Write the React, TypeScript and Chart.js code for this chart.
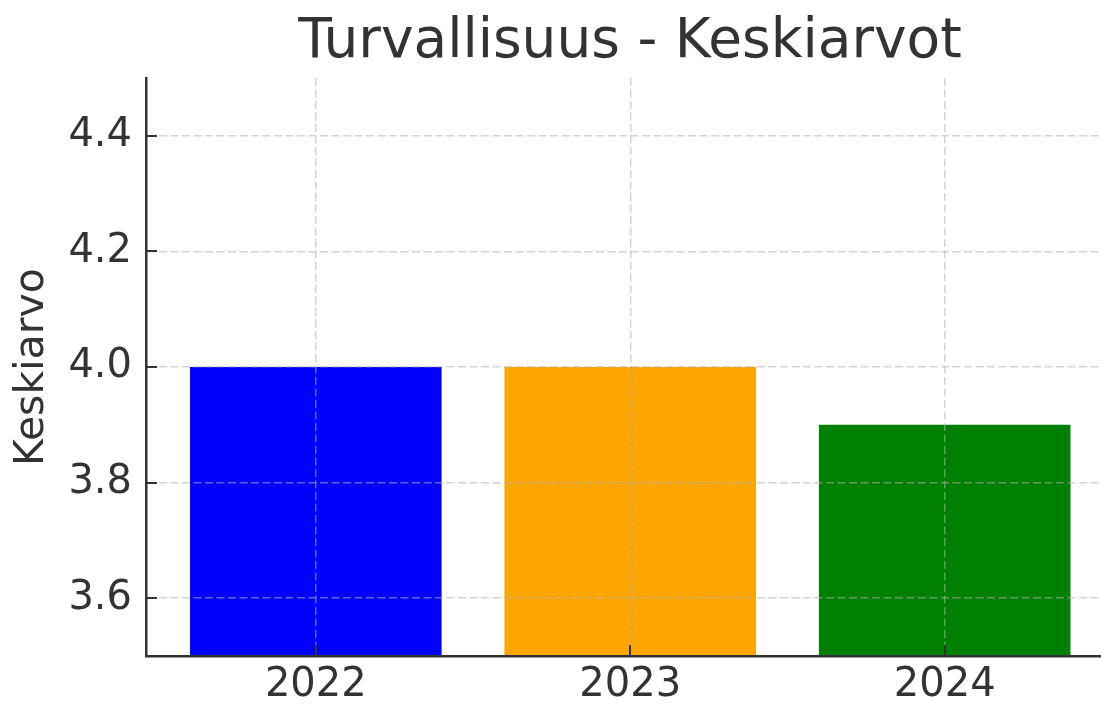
import React, { useEffect, useRef } from 'react';
import { Chart, registerables } from 'chart.js';

Chart.register(...registerables);

const categories = ['2022', '2023', '2024'];
const values = [4.0, 4.0, 3.9];
const barColors = ['#0000ff', '#ffa500', '#008000'];
const yTicks = [3.6, 3.8, 4.0, 4.2, 4.4];
const yMin = 3.5;
const yMax = 4.5;
const titleText = 'Turvallisuus - Keskiarvot';
const yLabel = 'Keskiarvo';

const FONT = "'DejaVu Sans', sans-serif";
const TEXT = '#333333';
const GRID = 'rgba(176,176,176,0.55)';
const DASH = [8, 3.5];

export default function App() {
  const ref = useRef<HTMLCanvasElement>(null);

  useEffect(() => {
    if (!ref.current) return;

    const titlePlugin = {
      id: 'mplTitle',
      afterDraw(chart: any) {
        const ctx = chart.ctx;
        ctx.save();
        ctx.font = `55px ${FONT}`;
        ctx.fillStyle = TEXT;
        ctx.textAlign = 'center';
        ctx.textBaseline = 'alphabetic';
        ctx.fillText(titleText, 630, 57);
        ctx.restore();
      },
    };

    const inwardTicks = {
      id: 'inwardTicks',
      afterDraw(chart: any) {
        const { ctx, chartArea, scales } = chart;
        const xs = scales.x;
        const ys = scales.y;
        ctx.save();
        ctx.strokeStyle = TEXT;
        ctx.lineWidth = 2;
        ctx.setLineDash([]);
        ctx.beginPath();
        xs.ticks.forEach((t: any) => {
          const px = Math.round(xs.getPixelForValue(t.value));
          ctx.moveTo(px, chartArea.bottom);
          ctx.lineTo(px, chartArea.bottom - 11);
        });
        ys.ticks.forEach((t: any) => {
          const py = Math.round(ys.getPixelForValue(t.value));
          ctx.moveTo(chartArea.left, py);
          ctx.lineTo(chartArea.left + 11, py);
        });
        ctx.stroke();
        ctx.restore();
      },
    };

    const chart = new Chart(ref.current, {
      type: 'bar',
      data: {
        datasets: [
          {
            data: categories.map((_, i) => ({ x: i, y: values[i] })),
            backgroundColor: barColors,
            borderWidth: 0,
            categoryPercentage: 1,
            barPercentage: 0.8,
          },
        ],
      },
      options: {
        responsive: false,
        animation: false,
        layout: { padding: { top: 78, left: 0, right: 0, bottom: 0 } },
        plugins: {
          legend: { display: false },
          title: { display: false },
          tooltip: { enabled: false },
        },
        scales: {
          x: {
            type: 'linear',
            min: -0.54,
            max: 2.497,
            offset: false,
            afterBuildTicks: (s: any) => {
              s.ticks = categories.map((_, i) => ({ value: i }));
            },
            afterFit: (s: any) => {
              s.height = 49;
            },
            ticks: {
              callback: (v: any) => categories[v] ?? '',
              font: { family: FONT, size: 40 },
              color: TEXT,
              padding: 6,
              maxRotation: 0,
              autoSkip: false,
            },
            grid: { color: GRID, lineWidth: 1.5, drawTicks: false, offset: false, z: 1 },
            border: { display: true, color: TEXT, width: 2.5, dash: DASH, z: 2 },
          },
          y: {
            type: 'linear',
            min: yMin,
            max: yMax,
            afterBuildTicks: (s: any) => {
              s.ticks = yTicks.map((v) => ({ value: v }));
            },
            afterFit: (s: any) => {
              s.width = 146;
            },
            ticks: {
              callback: (v: any) => Number(v).toFixed(1),
              font: { family: FONT, size: 40 },
              color: TEXT,
              padding: 14,
            },
            grid: { color: GRID, lineWidth: 1.5, drawTicks: false, z: 1 },
            border: { display: true, color: TEXT, width: 2.5, dash: DASH, z: 2 },
            title: {
              display: true,
              text: yLabel,
              font: { family: FONT, size: 41 },
              color: TEXT,
              padding: { top: 8, bottom: 0 },
            },
          },
        },
      },
      plugins: [titlePlugin, inwardTicks],
    } as any);

    return () => chart.destroy();
  }, []);

  return (
    <div style={{ position: 'fixed', left: 0, top: 0, width: 1101, height: 705, background: '#fff' }}>
      <canvas ref={ref} width={1101} height={705} style={{ display: 'block' }} />
    </div>
  );
}
